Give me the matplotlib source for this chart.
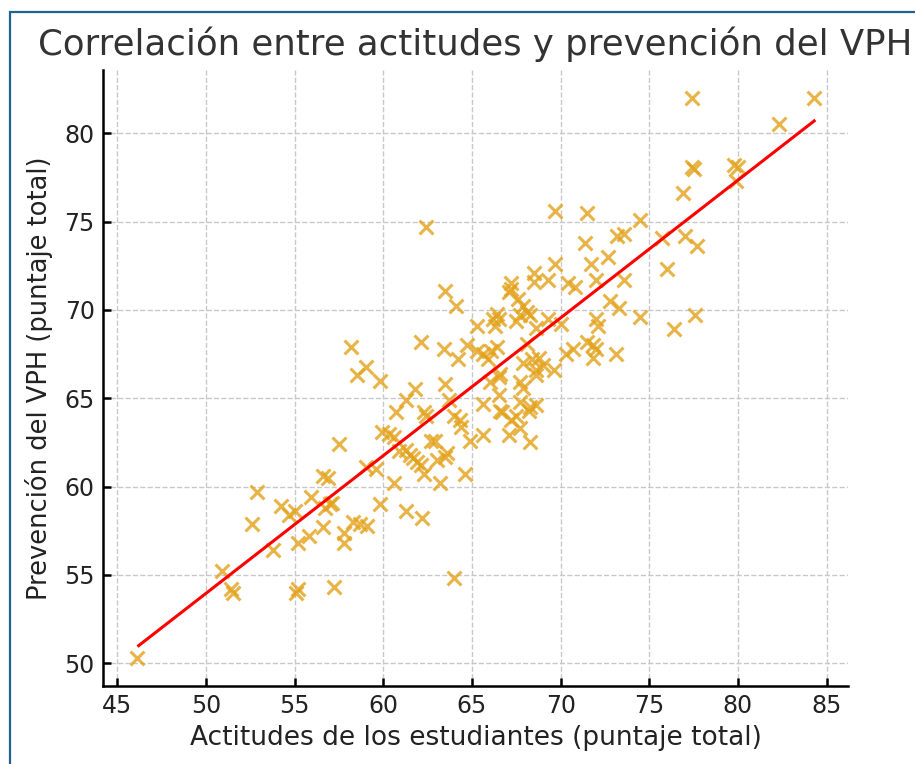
import matplotlib.pyplot as plt
from matplotlib.patches import Rectangle

# Puntajes (actitudes, prevención)
actitudes = [
    46.1, 50.9, 51.4, 51.5, 55.2, 55.1, 57.2, 53.8, 52.6, 52.9,
    54.2, 54.7, 55.0, 55.2, 55.8, 55.9, 56.6, 56.6, 56.9, 56.7,
    57.0, 57.1, 57.8, 57.8, 57.5, 58.3, 58.7, 59.1, 59.0, 59.6,
    59.8, 58.5, 59.8, 58.2, 59.0, 60.6, 61.3, 62.2, 59.9, 60.3,
    60.6, 60.7, 61.3, 61.8, 62.3, 62.4, 60.9, 61.3, 61.5, 61.7,
    61.9, 62.1, 62.3, 62.7, 62.9, 63.0, 63.5, 63.6, 63.2, 64.6,
    64.0, 62.4, 63.5, 64.1, 62.1, 63.4, 64.2, 64.7, 63.5, 63.7,
    64.0, 64.3, 64.4, 64.9, 65.6, 65.6, 65.3, 65.3, 65.6, 65.9,
    66.1, 66.4, 66.2, 66.0, 66.5, 66.5, 66.7, 67.2, 67.5, 67.7,
    67.1, 68.3, 67.7, 67.9, 67.7, 68.3, 68.6, 68.2, 66.6, 66.6,
    67.9, 68.4, 68.8, 69.0, 68.6, 69.6, 68.6, 68.1, 66.4, 66.5,
    68.6, 69.3, 70.0, 67.6, 67.9, 68.1, 68.3, 67.7, 67.5, 67.2,
    67.2, 67.1, 68.5, 68.5, 69.3, 70.4, 70.8, 72.0, 73.6, 69.7,
    71.7, 72.7, 71.4, 73.2, 73.6, 69.7, 71.5, 74.5, 72.0, 72.1,
    72.8, 73.3, 74.5, 70.3, 70.7, 71.5, 71.8, 72.0, 71.8, 73.1,
    75.7, 77.0, 77.7, 76.0, 76.9, 77.4, 77.5, 79.8, 80.0, 79.9,
    82.3, 77.4, 84.3, 77.6, 76.4, 66.3,
]
prevencion = [
    50.3, 55.2, 54.2, 54.0, 54.2, 54.0, 54.3, 56.4, 57.9, 59.7,
    58.9, 58.4, 58.6, 56.8, 57.2, 59.4, 57.7, 60.6, 60.5, 58.8,
    59.0, 59.1, 57.4, 56.8, 62.4, 58.0, 57.9, 57.8, 61.1, 61.0,
    59.0, 66.3, 66.0, 67.9, 66.8, 60.2, 58.6, 58.2, 63.1, 63.0,
    62.8, 64.2, 64.9, 65.5, 64.2, 64.0, 62.0, 62.1, 61.8, 61.6,
    61.4, 61.2, 60.7, 62.6, 62.6, 61.5, 61.7, 61.9, 60.2, 60.7,
    54.8, 74.7, 71.1, 70.2, 68.2, 67.8, 67.2, 68.0, 65.8, 64.9,
    64.0, 63.8, 63.4, 62.6, 62.9, 64.7, 69.1, 67.7, 67.5, 67.2,
    67.7, 67.9, 69.5, 65.9, 66.2, 65.2, 64.2, 63.8, 64.0, 63.3,
    62.9, 62.5, 65.9, 65.6, 64.8, 64.5, 64.6, 64.3, 66.4, 64.3,
    67.0, 67.2, 67.3, 66.9, 66.6, 66.6, 66.3, 68.1, 69.8, 69.5,
    69.0, 69.5, 69.2, 70.6, 70.2, 69.9, 69.7, 69.7, 69.4, 71.5,
    71.2, 71.0, 72.1, 71.6, 71.7, 71.5, 71.3, 71.7, 71.7, 72.6,
    72.6, 73.0, 73.8, 74.2, 74.3, 75.6, 75.5, 75.1, 69.5, 69.1,
    70.5, 70.1, 69.6, 67.5, 67.8, 68.2, 68.0, 67.8, 67.3, 67.5,
    74.1, 74.2, 73.6, 72.3, 76.6, 78.1, 78.0, 78.2, 78.1, 77.3,
    80.5, 82.0, 82.0, 69.7, 68.9, 69.1,
]

# Recta de regresión (extremos)
recta_x = [46.2, 84.3]
recta_y = [51.0, 80.7]

xticks = [45, 50, 55, 60, 65, 70, 75, 80, 85]
yticks = [50, 55, 60, 65, 70, 75, 80]

fig = plt.figure(figsize=(9.15, 7.64), dpi=100)
ax = fig.add_axes([0.1126, 0.1021, 0.8142, 0.8063])

ax.scatter(actitudes, prevencion, marker='x', s=100, linewidths=2.2,
           color='#E3A21A', alpha=0.8, zorder=3)
ax.plot(recta_x, recta_y, color='red', linewidth=2.2, zorder=4)

ax.set_xticks(xticks)
ax.set_yticks(yticks)
ax.grid(True, linestyle='--', color='#c8c8c8', linewidth=1)
ax.set_axisbelow(True)
for s in ['top', 'right']:
    ax.spines[s].set_visible(False)
for s in ['left', 'bottom']:
    ax.spines[s].set_linewidth(1.8)
ax.tick_params(direction='in', length=6, width=1.8, labelsize=17, pad=6,
               labelcolor='#222222')

ax.set_title('Correlación entre actitudes y prevención del VPH', fontsize=25.6,
             color='#333333', pad=11)
ax.set_xlabel('Actitudes de los estudiantes (puntaje total)', fontsize=19,
              color='#222222', labelpad=5)
ax.set_ylabel('Prevención del VPH (puntaje total)', fontsize=18.5,
              color='#222222', labelpad=8)

# marco azul de la captura
fig.patches.append(Rectangle((10 / 915, -0.1), 1.2, 1.1 - 12 / 764,
                             transform=fig.transFigure, fill=False,
                             edgecolor='#1f6391', linewidth=1.6))

fig.savefig('out.png', dpi=100)
